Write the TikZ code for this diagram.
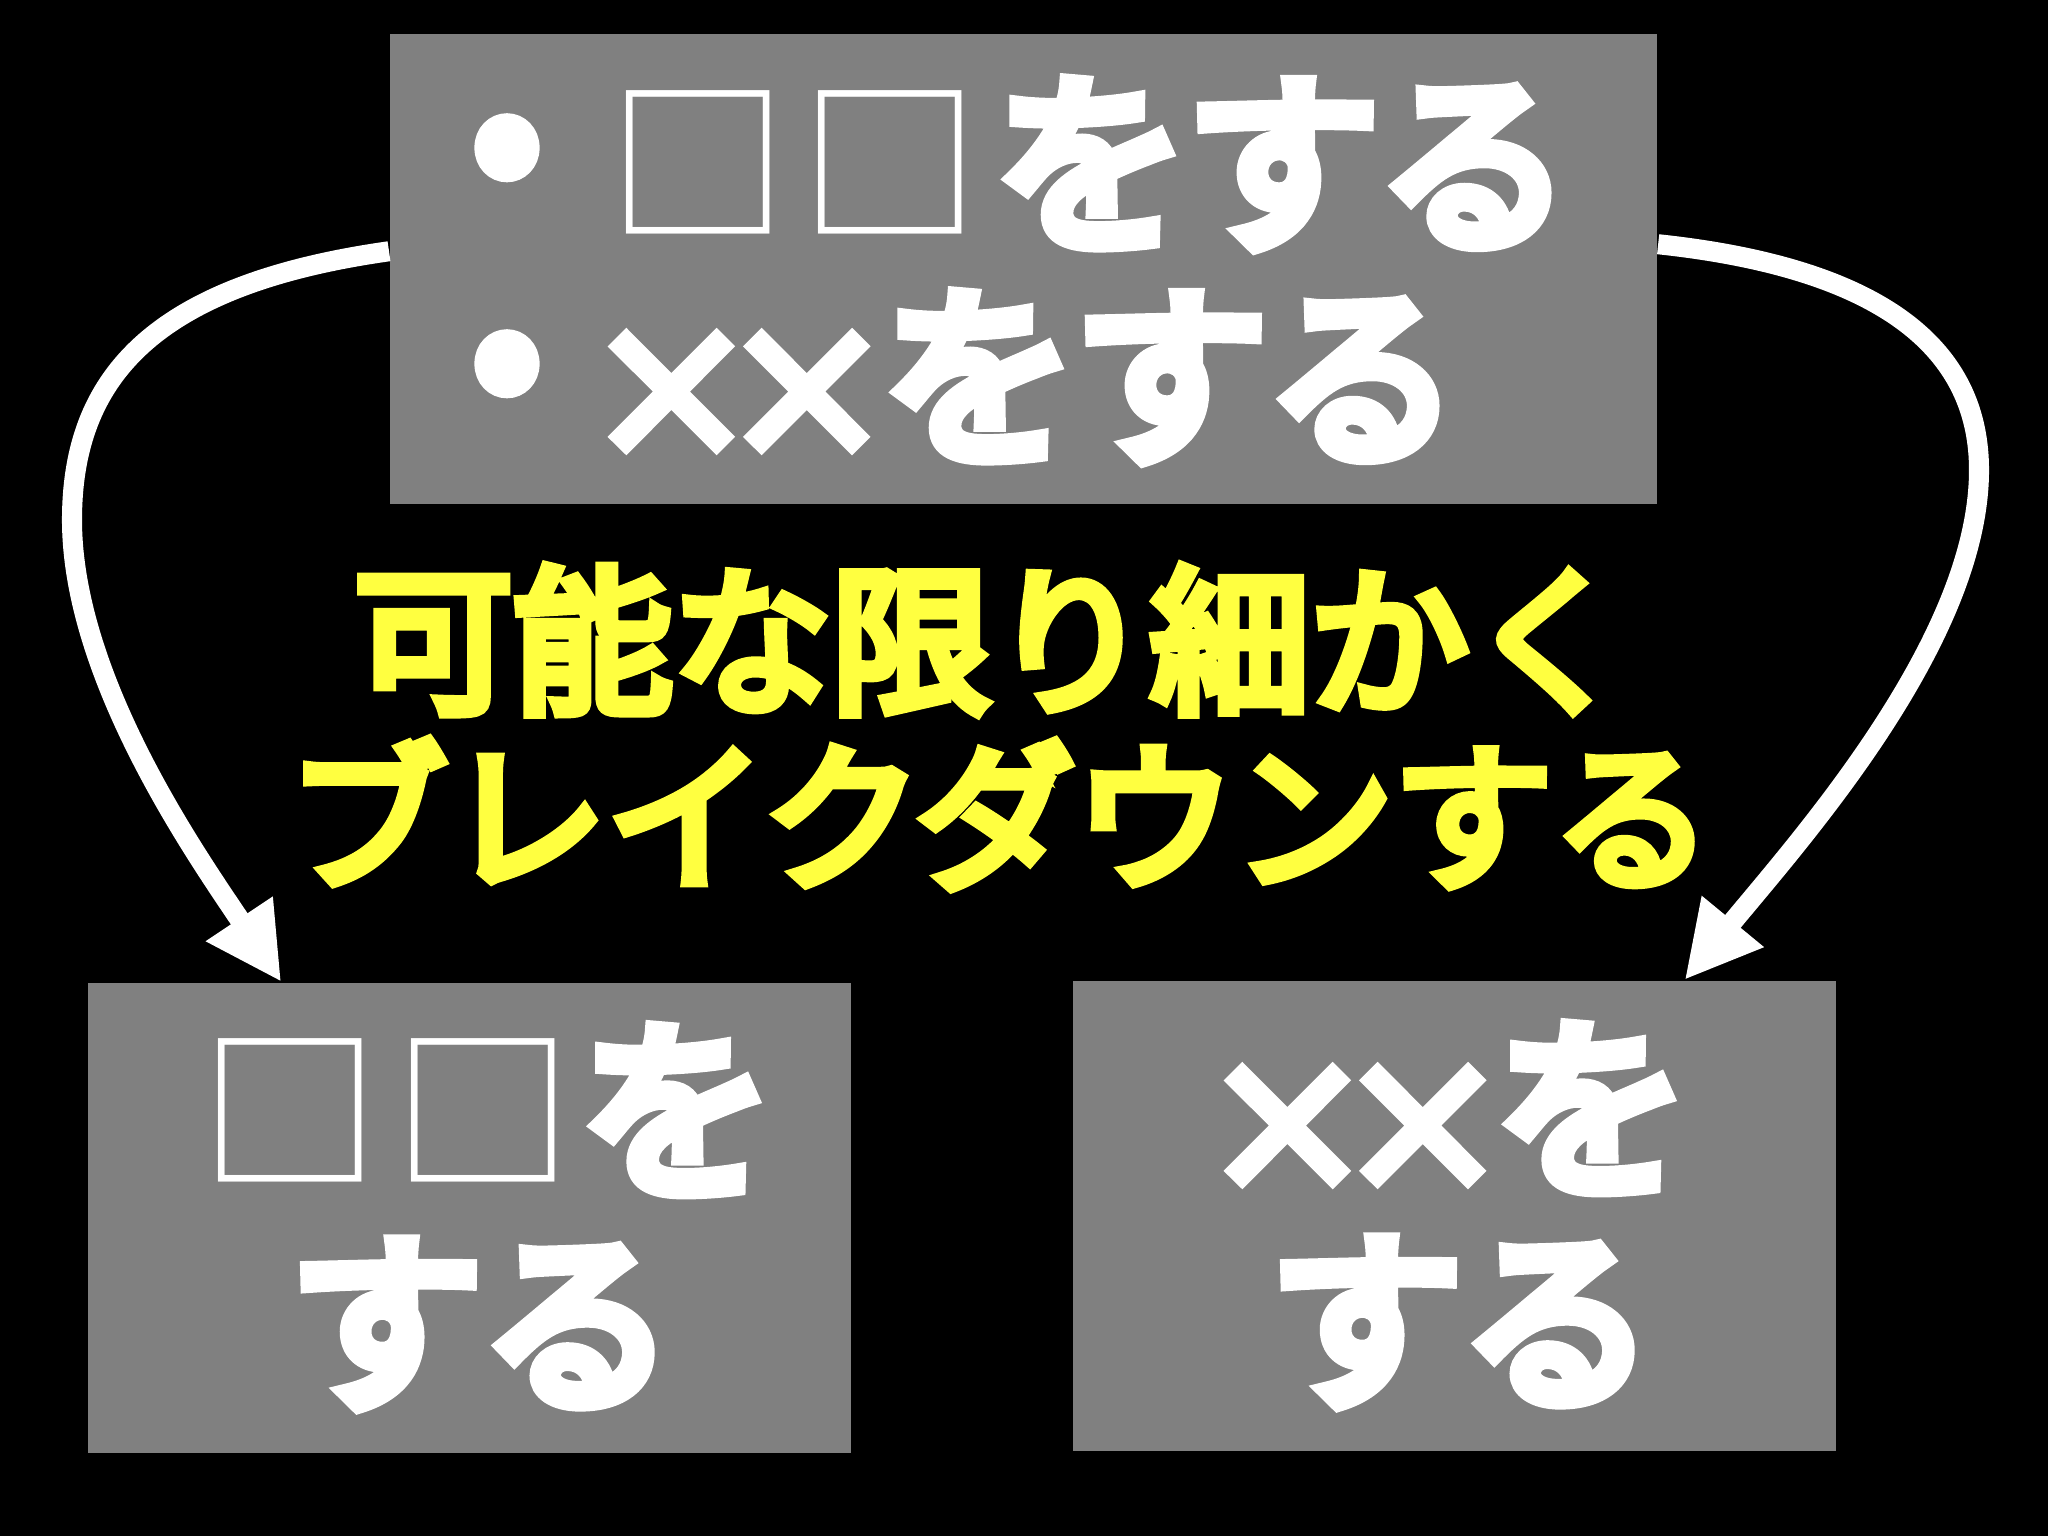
\documentclass[tikz,border=0pt]{standalone}
\usepackage{fontspec}
\newfontfamily\cjk[FakeBold=9]{Noto Sans CJK JP}
\newfontfamily\cjkmid[FakeBold=7]{Noto Sans CJK JP}
\newfontfamily\cjkthin{Noto Sans CJK JP}
\usetikzlibrary{arrows.meta}
\definecolor{boxgray}{HTML}{808080}
\definecolor{hl}{HTML}{FFFF40}
\begin{document}
\begin{tikzpicture}[x=0.01cm,y=-0.01cm,
  box/.style={fill=boxgray, draw=none, inner sep=0, minimum width=7.63cm, minimum height=4.70cm, anchor=north west},
  wt/.style={text=white, font=\cjk\fontsize{54.5}{60}\selectfont, inner sep=0},
  sqt/.style={text=white, font=\cjkthin\fontsize{51}{56}\selectfont, inner sep=0},
  xt/.style={text=white, font=\cjk\fontsize{47}{50}\selectfont, inner sep=0},
  yt/.style={text=hl, font=\cjkmid\fontsize{45.3}{50}\selectfont, inner sep=0},
  conn/.style={white, line width=5.7pt, -{Triangle[length=21.6pt,width=21.3pt]}}]
\fill[black] (0,0) rectangle (2048,1536);
\useasboundingbox (0,0) rectangle (2048,1536);
\node[box, minimum width=12.67cm] (top) at (389,33) {};
\node[box] (bl) at (87,982) {};
\node[box] (br) at (1072,980) {};
% top box
\node[wt] (t1b) at (507,163) {•};
\node[sqt] (t1s) at (794,162) {□\hspace{0.13cm}□};
\node[wt] (t1t) at (1283,164) {をする};
\node[wt] (t2b) at (507,379) {•};
\node[xt] (t2x) at (739,396) {×\hspace{-0.30cm}×};
\node[wt] (t2t) at (1171,377) {をする};
% middle
\node[yt] (m1) at (991,640) {可能な限り細かく};
\node[yt] (m2) at (1000,814) {ブレイクダウンする};
% bottom left
\node[sqt] (b1s) at (387,1110) {□\hspace{0.14cm}□};
\node[wt] (b1t) at (677,1110) {を};
\node[wt] (b2) at (482,1324) {する};
% bottom right
\node[xt] (r1x) at (1355,1130) {×\hspace{-0.30cm}×};
\node[wt] (r1t) at (1592,1108) {を};
\node[wt] (r2) at (1462,1322) {する};
% connectors
\draw[conn] ([yshift=5pt]top.west) .. controls (150,285) and (72,380) .. (72,520)
  .. controls (72,680) and (200,860) .. ([xshift=-1.88cm]bl.north);
\draw[conn] ([yshift=7pt]top.east) .. controls (1900,270) and (1979,360) .. (1979,470)
  .. controls (1979,640) and (1800,840) .. ([xshift=2.3cm]br.north);
\end{tikzpicture}
\end{document}
